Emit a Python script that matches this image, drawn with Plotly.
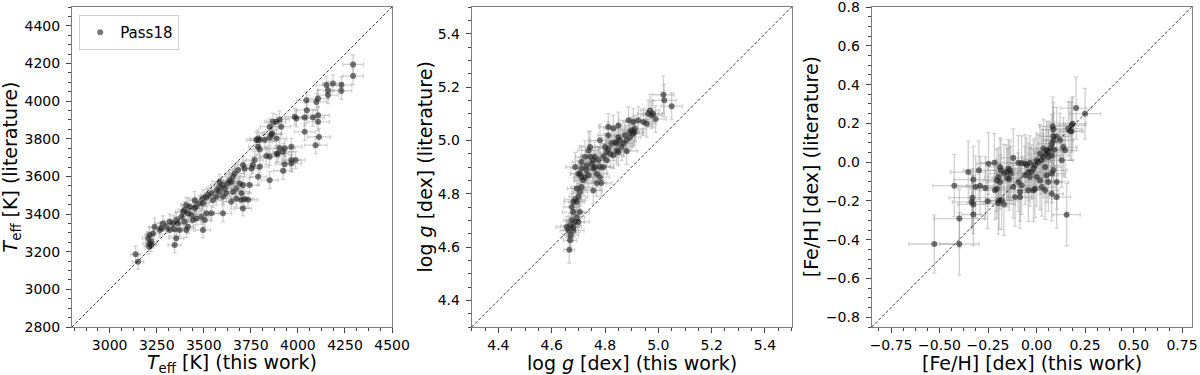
import plotly.graph_objects as go

# ---- Teff comparison (K) ----
teff_this = [3138, 3151, 3204, 3212, 3212, 3221, 3209, 3221, 3230, 3239, 3266, 3274, 3283, 3301, 3319,
             3319, 3336, 3345, 3354, 3363, 3354, 3345, 3372, 3381, 3390, 3398, 3407, 3398, 3407, 3416,
             3416, 3425, 3434, 3443, 3451, 3451, 3460, 3460, 3478, 3487, 3496, 3496, 3496, 3505, 3514,
             3514, 3523, 3540, 3540, 3549, 3567, 3567, 3584, 3584, 3584, 3602, 3602, 3602, 3611, 3620,
             3628, 3637, 3646, 3646, 3655, 3655, 3664, 3673, 3673, 3682, 3691, 3700, 3700, 3708, 3708,
             3708, 3717, 3717, 3735, 3743, 3753, 3761, 3770, 3779, 3788, 3788, 3788, 3797, 3797, 3797,
             3824, 3832, 3850, 3850, 3850, 3850, 3859, 3864, 3868, 3886, 3886, 3886, 3894, 3903, 3903,
             3912, 3921, 3921, 3930, 3930, 3965, 3965, 3965, 3983, 3988, 3992, 4036, 4036, 4045, 4048,
             4080, 4094, 4098, 4107, 4107, 4107, 4112, 4151, 4160, 4160, 4186, 4231, 4231, 4293, 4293]
teff_lit = [3186, 3147, 3271, 3289, 3244, 3235, 3227, 3253, 3297, 3333, 3315, 3324, 3350, 3333, 3359,
            3315, 3350, 3319, 3368, 3350, 3271, 3235, 3315, 3386, 3412, 3421, 3448, 3359, 3315, 3404,
            3333, 3439, 3395, 3368, 3474, 3430, 3439, 3377, 3457, 3386, 3457, 3483, 3315, 3368, 3404,
            3488, 3501, 3510, 3404, 3474, 3492, 3527, 3519, 3545, 3572, 3554, 3492, 3404, 3536, 3510,
            3563, 3580, 3572, 3466, 3598, 3519, 3616, 3536, 3483, 3634, 3563, 3510, 3476, 3660, 3554,
            3430, 3642, 3480, 3476, 3554, 3642, 3660, 3687, 3793, 3802, 3757, 3598, 3793, 3743, 3651,
            3793, 3708, 3864, 3807, 3704, 3580, 3823, 3828, 3890, 3890, 3802, 3719, 3722, 3903, 3749,
            3864, 3731, 3630, 3749, 3665, 3757, 3687, 3669, 3917, 3687, 3908, 3913, 3837, 4005, 3952,
            3913, 3766, 3996, 4014, 3925, 3890, 3810, 4085, 4058, 4032, 4094, 4085, 4055, 4195, 4133]
teff_this_err = [25, 30, 30, 25, 35, 30, 25, 30, 35, 30, 35, 30, 40, 35, 30, 35, 40, 30, 35, 30, 40, 35, 30, 35, 40,
                 35, 30, 35, 40, 35, 30, 40, 35, 40, 35, 40, 35, 40, 35, 40, 35, 40, 40, 35, 40, 35, 40, 35, 40, 45,
                 40, 45, 40, 45, 40, 45, 40, 45, 40, 45, 40, 45, 40, 45, 40, 45, 50, 45, 50, 45, 50, 45, 50, 45, 50,
                 45, 50, 45, 50, 50, 45, 50, 45, 50, 45, 50, 45, 50, 45, 50, 50, 55, 50, 55, 50, 45, 50, 50, 45, 50,
                 55, 50, 55, 50, 55, 50, 55, 50, 55, 50, 55, 50, 55, 55, 50, 55, 55, 55, 50, 55, 60, 60, 55, 55, 60,
                 60, 60, 55, 55, 55, 55, 55, 55, 55, 55]
teff_lit_err = [45, 40, 35, 40, 30, 35, 40, 35, 30, 45, 40, 35, 40, 35, 40, 35, 40, 35, 40, 35, 35, 40, 35, 40, 40,
                45, 40, 35, 40, 40, 35, 45, 40, 40, 45, 40, 40, 35, 40, 40, 40, 45, 40, 35, 40, 45, 40, 45, 40, 40,
                45, 40, 45, 45, 40, 45, 40, 45, 40, 45, 45, 40, 45, 40, 45, 40, 45, 40, 45, 45, 40, 45, 40, 45, 45,
                40, 45, 40, 45, 40, 45, 45, 45, 45, 45, 40, 45, 40, 45, 45, 45, 45, 40, 45, 45, 45, 40, 45, 45, 40,
                45, 45, 45, 45, 45, 40, 45, 45, 45, 45, 45, 45, 45, 45, 45, 45, 45, 45, 45, 45, 45, 45, 45, 45, 45,
                45, 45, 45, 45, 45, 45, 45, 45, 50, 45]

# ---- log g comparison (dex) ----
logg_this = [4.666, 4.669, 4.671, 4.662, 4.656, 4.669, 4.681, 4.681, 4.688, 4.675, 4.700, 4.694, 4.706, 4.681,
             4.675, 4.681, 4.688, 4.694, 4.700, 4.706, 4.694, 4.712, 4.719, 4.712, 4.706, 4.700, 4.688, 4.712,
             4.712, 4.725, 4.731, 4.738, 4.725, 4.731, 4.738, 4.744, 4.744, 4.750, 4.756, 4.756, 4.756, 4.762,
             4.762, 4.769, 4.769, 4.775, 4.781, 4.781, 4.781, 4.786, 4.794, 4.794, 4.800, 4.806, 4.806, 4.812,
             4.812, 4.812, 4.819, 4.825, 4.831, 4.831, 4.838, 4.844, 4.844, 4.850, 4.850, 4.850, 4.856, 4.862,
             4.869, 4.875, 4.881, 4.881, 4.888, 4.894, 4.894, 4.900, 4.906, 4.906, 4.911, 4.912, 4.925, 4.944,
             4.956, 4.962, 4.969, 4.975, 4.980, 4.990, 5.019, 5.022, 5.050]
logg_lit = [4.590, 4.625, 4.644, 4.662, 4.675, 4.681, 4.675, 4.662, 4.694, 4.700, 4.694, 4.712, 4.731, 4.731,
            4.750, 4.769, 4.778, 4.769, 4.788, 4.806, 4.819, 4.825, 4.850, 4.862, 4.875, 4.875, 4.900, 4.894,
            4.919, 4.862, 4.888, 4.869, 4.938, 4.906, 4.962, 4.938, 4.975, 4.912, 4.894, 4.812, 4.925, 4.938,
            4.900, 4.840, 4.875, 4.925, 4.900, 4.862, 5.000, 4.840, 4.938, 4.900, 4.975, 4.956, 4.925, 4.969,
            5.050, 5.019, 4.950, 4.988, 5.044, 4.944, 4.994, 4.988, 4.962, 5.056, 5.012, 4.956, 5.000, 4.975,
            4.988, 5.019, 5.000, 4.960, 5.075, 5.012, 5.031, 5.038, 5.025, 5.069, 5.031, 5.044, 5.075, 5.069,
            5.062, 5.100, 5.112, 5.094, 5.100, 5.080, 5.171, 5.150, 5.128]
logg_this_err = [0.020, 0.025, 0.030, 0.030, 0.040, 0.035, 0.030, 0.040, 0.035, 0.030, 0.040, 0.030, 0.035, 0.040,
                 0.030, 0.035, 0.040, 0.030, 0.035, 0.030, 0.035, 0.040, 0.035, 0.030, 0.035, 0.030, 0.035, 0.040,
                 0.035, 0.040, 0.035, 0.040, 0.035, 0.040, 0.040, 0.035, 0.040, 0.035, 0.040, 0.035, 0.040, 0.035,
                 0.040, 0.035, 0.040, 0.035, 0.040, 0.035, 0.040, 0.040, 0.035, 0.040, 0.035, 0.040, 0.035, 0.040,
                 0.035, 0.040, 0.035, 0.040, 0.035, 0.040, 0.035, 0.040, 0.035, 0.040, 0.035, 0.040, 0.035, 0.040,
                 0.035, 0.040, 0.035, 0.040, 0.035, 0.040, 0.035, 0.040, 0.035, 0.040, 0.035, 0.040, 0.035, 0.040,
                 0.035, 0.040, 0.035, 0.040, 0.035, 0.040, 0.040, 0.045, 0.040]
logg_lit_err = [0.050, 0.040, 0.040, 0.040, 0.040, 0.045, 0.040, 0.040, 0.045, 0.050, 0.040, 0.040, 0.050, 0.045,
                0.050, 0.050, 0.050, 0.050, 0.050, 0.050, 0.050, 0.050, 0.055, 0.050, 0.060, 0.050, 0.055, 0.050,
                0.060, 0.050, 0.050, 0.050, 0.060, 0.050, 0.070, 0.060, 0.060, 0.050, 0.050, 0.050, 0.050, 0.060,
                0.050, 0.050, 0.050, 0.050, 0.050, 0.050, 0.060, 0.050, 0.050, 0.050, 0.050, 0.050, 0.050, 0.050,
                0.050, 0.050, 0.050, 0.050, 0.050, 0.050, 0.050, 0.050, 0.050, 0.050, 0.050, 0.050, 0.050, 0.050,
                0.050, 0.050, 0.050, 0.050, 0.050, 0.050, 0.050, 0.050, 0.050, 0.050, 0.050, 0.050, 0.050, 0.050,
                0.050, 0.050, 0.060, 0.050, 0.050, 0.050, 0.070, 0.060, 0.050]

# ---- [Fe/H] comparison (dex) ----
feh_this = [-0.527, -0.398, -0.398, -0.424, -0.352, -0.326, -0.326, -0.334, -0.331, -0.326, -0.314, -0.297,
            -0.291, -0.264, -0.252, -0.248, -0.217, -0.214, -0.205, -0.205, -0.197, -0.197, -0.193, -0.188,
            -0.188, -0.183, -0.180, -0.168, -0.168, -0.154, -0.151, -0.145, -0.141, -0.137, -0.133, -0.120,
            -0.120, -0.111, -0.094, -0.094, -0.085, -0.085, -0.077, -0.077, -0.059, -0.059, -0.051, -0.042,
            -0.042, -0.034, -0.034, -0.025, -0.016, -0.016, -0.008, -0.008, 0.001, 0.001, 0.009, 0.018,
            0.018, 0.027, 0.027, 0.035, 0.035, 0.044, 0.044, 0.049, 0.052, 0.052, 0.061, 0.061, 0.061,
            0.069, 0.078, 0.078, 0.078, 0.078, 0.083, 0.087, 0.087, 0.087, 0.087, 0.092, 0.104, 0.104,
            0.104, 0.121, 0.130, 0.138, 0.147, 0.155, 0.164, 0.173, 0.181, 0.181, 0.186, 0.204, 0.250]
feh_lit = [-0.422, -0.422, -0.291, -0.121, -0.051, -0.090, -0.270, -0.205, -0.183, -0.218, -0.128, -0.042,
           -0.121, -0.133, -0.202, -0.008, -0.003, -0.145, -0.094, -0.137, -0.077, -0.211, -0.197, -0.102,
           -0.025, -0.042, -0.197, -0.218, -0.059, -0.051, -0.082, -0.034, -0.087, -0.042, -0.059, 0.022,
           -0.128, -0.180, -0.102, -0.003, -0.154, -0.180, -0.119, -0.004, -0.008, -0.068, -0.016, -0.051,
           -0.145, -0.004, -0.077, -0.051, -0.034, -0.145, -0.016, -0.137, 0.010, -0.077, 0.001, 0.044,
           -0.094, 0.010, -0.128, 0.027, 0.070, -0.025, -0.145, 0.044, 0.061, -0.068, 0.052, 0.027, -0.102,
           0.070, 0.095, 0.035, -0.059, -0.163, 0.185, 0.113, 0.133, 0.168, -0.042, 0.064, 0.133, -0.102,
           -0.180, 0.113, 0.010, 0.078, 0.061, -0.271, 0.173, 0.159, 0.190, 0.160, 0.198, 0.279, 0.250]
feh_this_err = [0.13, 0.10, 0.13, 0.11, 0.09, 0.10, 0.06, 0.10, 0.12, 0.08, 0.09, 0.08, 0.07, 0.08, 0.09,
                0.06, 0.07, 0.08, 0.07, 0.06, 0.07, 0.08, 0.06, 0.07, 0.06, 0.07, 0.08, 0.06, 0.07, 0.06,
                0.07, 0.06, 0.07, 0.06, 0.07, 0.06, 0.07, 0.06, 0.07, 0.06, 0.07, 0.06, 0.07, 0.06, 0.07,
                0.06, 0.07, 0.06, 0.07, 0.06, 0.07, 0.06, 0.07, 0.06, 0.07, 0.06, 0.07, 0.06, 0.07, 0.06,
                0.07, 0.06, 0.07, 0.06, 0.07, 0.06, 0.07, 0.06, 0.07, 0.06, 0.07, 0.06, 0.07, 0.06, 0.07,
                0.06, 0.07, 0.06, 0.07, 0.06, 0.07, 0.06, 0.07, 0.06, 0.07, 0.06, 0.07, 0.07, 0.06, 0.07,
                0.06, 0.07, 0.07, 0.06, 0.07, 0.06, 0.07, 0.08, 0.08]
feh_lit_err = [0.15, 0.16, 0.15, 0.16, 0.16, 0.17, 0.16, 0.14, 0.15, 0.15, 0.16, 0.15, 0.15, 0.16, 0.14,
               0.16, 0.15, 0.15, 0.16, 0.15, 0.15, 0.16, 0.15, 0.14, 0.15, 0.16, 0.15, 0.16, 0.15, 0.14,
               0.15, 0.15, 0.16, 0.15, 0.14, 0.15, 0.16, 0.15, 0.15, 0.14, 0.15, 0.16, 0.15, 0.14, 0.15,
               0.15, 0.14, 0.15, 0.16, 0.14, 0.15, 0.14, 0.15, 0.16, 0.14, 0.15, 0.14, 0.15, 0.14, 0.15,
               0.15, 0.14, 0.15, 0.14, 0.15, 0.14, 0.15, 0.14, 0.15, 0.14, 0.15, 0.14, 0.15, 0.14, 0.15,
               0.14, 0.15, 0.14, 0.15, 0.14, 0.15, 0.14, 0.15, 0.14, 0.15, 0.14, 0.16, 0.14, 0.14, 0.15,
               0.14, 0.16, 0.14, 0.15, 0.14, 0.15, 0.14, 0.16, 0.13]

x_titles = ['<i>T</i><sub>eff</sub> [K] (this work)', 'log <i>g</i> [dex] (this work)',
            '[Fe/H] [dex] (this work)']
y_titles = ['<i>T</i><sub>eff</sub> [K] (literature)', 'log <i>g</i> [dex] (literature)',
            '[Fe/H] [dex] (literature)']

MARKER = 'rgba(30,30,30,0.6)'
ERRCOL = 'rgba(150,150,150,0.45)'
FONT = 'DejaVu Sans, sans-serif'

fig = go.Figure()

panels = [
    (teff_this, teff_lit, teff_this_err, teff_lit_err, True),
    (logg_this, logg_lit, logg_this_err, logg_lit_err, False),
    (feh_this, feh_lit, feh_this_err, feh_lit_err, False),
]
for i, (xs, ys, xe, ye, show) in enumerate(panels, 1):
    sfx = str(i) if i > 1 else ''
    fig.add_trace(go.Scatter(
        x=xs, y=ys, mode='markers', name='Pass18', showlegend=show,
        xaxis='x' + sfx, yaxis='y' + sfx,
        marker=dict(size=6, color=MARKER),
        error_x=dict(type='data', array=xe, color=ERRCOL, thickness=1.3, width=2),
        error_y=dict(type='data', array=ye, color=ERRCOL, thickness=1.3, width=2),
    ))
    # one-to-one line, corner to corner (ranges are equal)
    fig.add_shape(type='line', xref='x' + sfx + ' domain', yref='y' + sfx + ' domain',
                  x0=0, y0=0, x1=1, y1=1,
                  line=dict(color='black', width=0.8, dash='3px,2px'))

common = dict(showgrid=False, zeroline=False, showline=True, mirror=True, automargin=False,
              linecolor='#7f7f7f', linewidth=1, ticks='outside', ticklen=5,
              tickcolor='#444', tickwidth=1, ticklabeloverflow='allow',
              tickfont=dict(family=FONT, size=14, color='black'))
minor_style = dict(ticklen=3, ticks='outside', tickcolor='#444')

xdom = [[0.06, 0.3267], [0.3931, 0.6597], [0.7264, 0.9931]]
ydom = [0.128, 0.9813]
ytitle_x = [0.0095, 0.3545, 0.676]

fig.update_layout(
    xaxis=dict(common, domain=xdom[0], anchor='y', range=[2800, 4500], dtick=250,
               minor=dict(minor_style, dtick=62.5)),
    yaxis=dict(common, domain=ydom, anchor='x', range=[2800, 4500], dtick=200,
               minor=dict(minor_style, dtick=50), ticklabelstandoff=3),
    xaxis2=dict(common, domain=xdom[1], anchor='y2', range=[4.3, 5.5], dtick=0.2, tickformat='.1f',
                minor=dict(minor_style, dtick=0.05)),
    yaxis2=dict(common, domain=ydom, anchor='x2', range=[4.3, 5.5], dtick=0.2, tickformat='.1f',
                minor=dict(minor_style, dtick=0.05), ticklabelstandoff=3),
    xaxis3=dict(common, domain=xdom[2], anchor='y3', range=[-0.85, 0.8], dtick=0.25, tickformat='.2f',
                minor=dict(minor_style, dtick=0.0625)),
    yaxis3=dict(common, domain=ydom, anchor='x3', range=[-0.85, 0.8001], dtick=0.2, tickformat='.1f',
                minor=dict(minor_style, dtick=0.05), ticklabelstandoff=3),
    legend=dict(x=0.066, y=0.96, xanchor='left', yanchor='top',
                bordercolor='#d0d0d0', borderwidth=1, bgcolor='white',
                font=dict(family=FONT, size=15, color='black')),
    width=1200, height=375,
    margin=dict(l=0, r=0, t=0, b=0, autoexpand=False),
    plot_bgcolor='white', paper_bgcolor='white',
    font=dict(family=FONT),
)

# axis titles as paper annotations (margins are zero)
for i in range(3):
    fig.add_annotation(text=x_titles[i], xref='paper', yref='paper',
                       x=(xdom[i][0] + xdom[i][1]) / 2, y=0.031,
                       xanchor='center', yanchor='middle', showarrow=False,
                       font=dict(family=FONT, size=19, color='black'))
    fig.add_annotation(text=y_titles[i], xref='paper', yref='paper',
                       x=ytitle_x[i], y=(ydom[0] + ydom[1]) / 2, textangle=-90,
                       xanchor='center', yanchor='middle', showarrow=False,
                       font=dict(family=FONT, size=19, color='black'))

# drop the default 8px page margin so the figure sits at the window origin
fig.write_html("out.html", config={'displayModeBar': False},
               post_script="document.body.style.margin='0';")
